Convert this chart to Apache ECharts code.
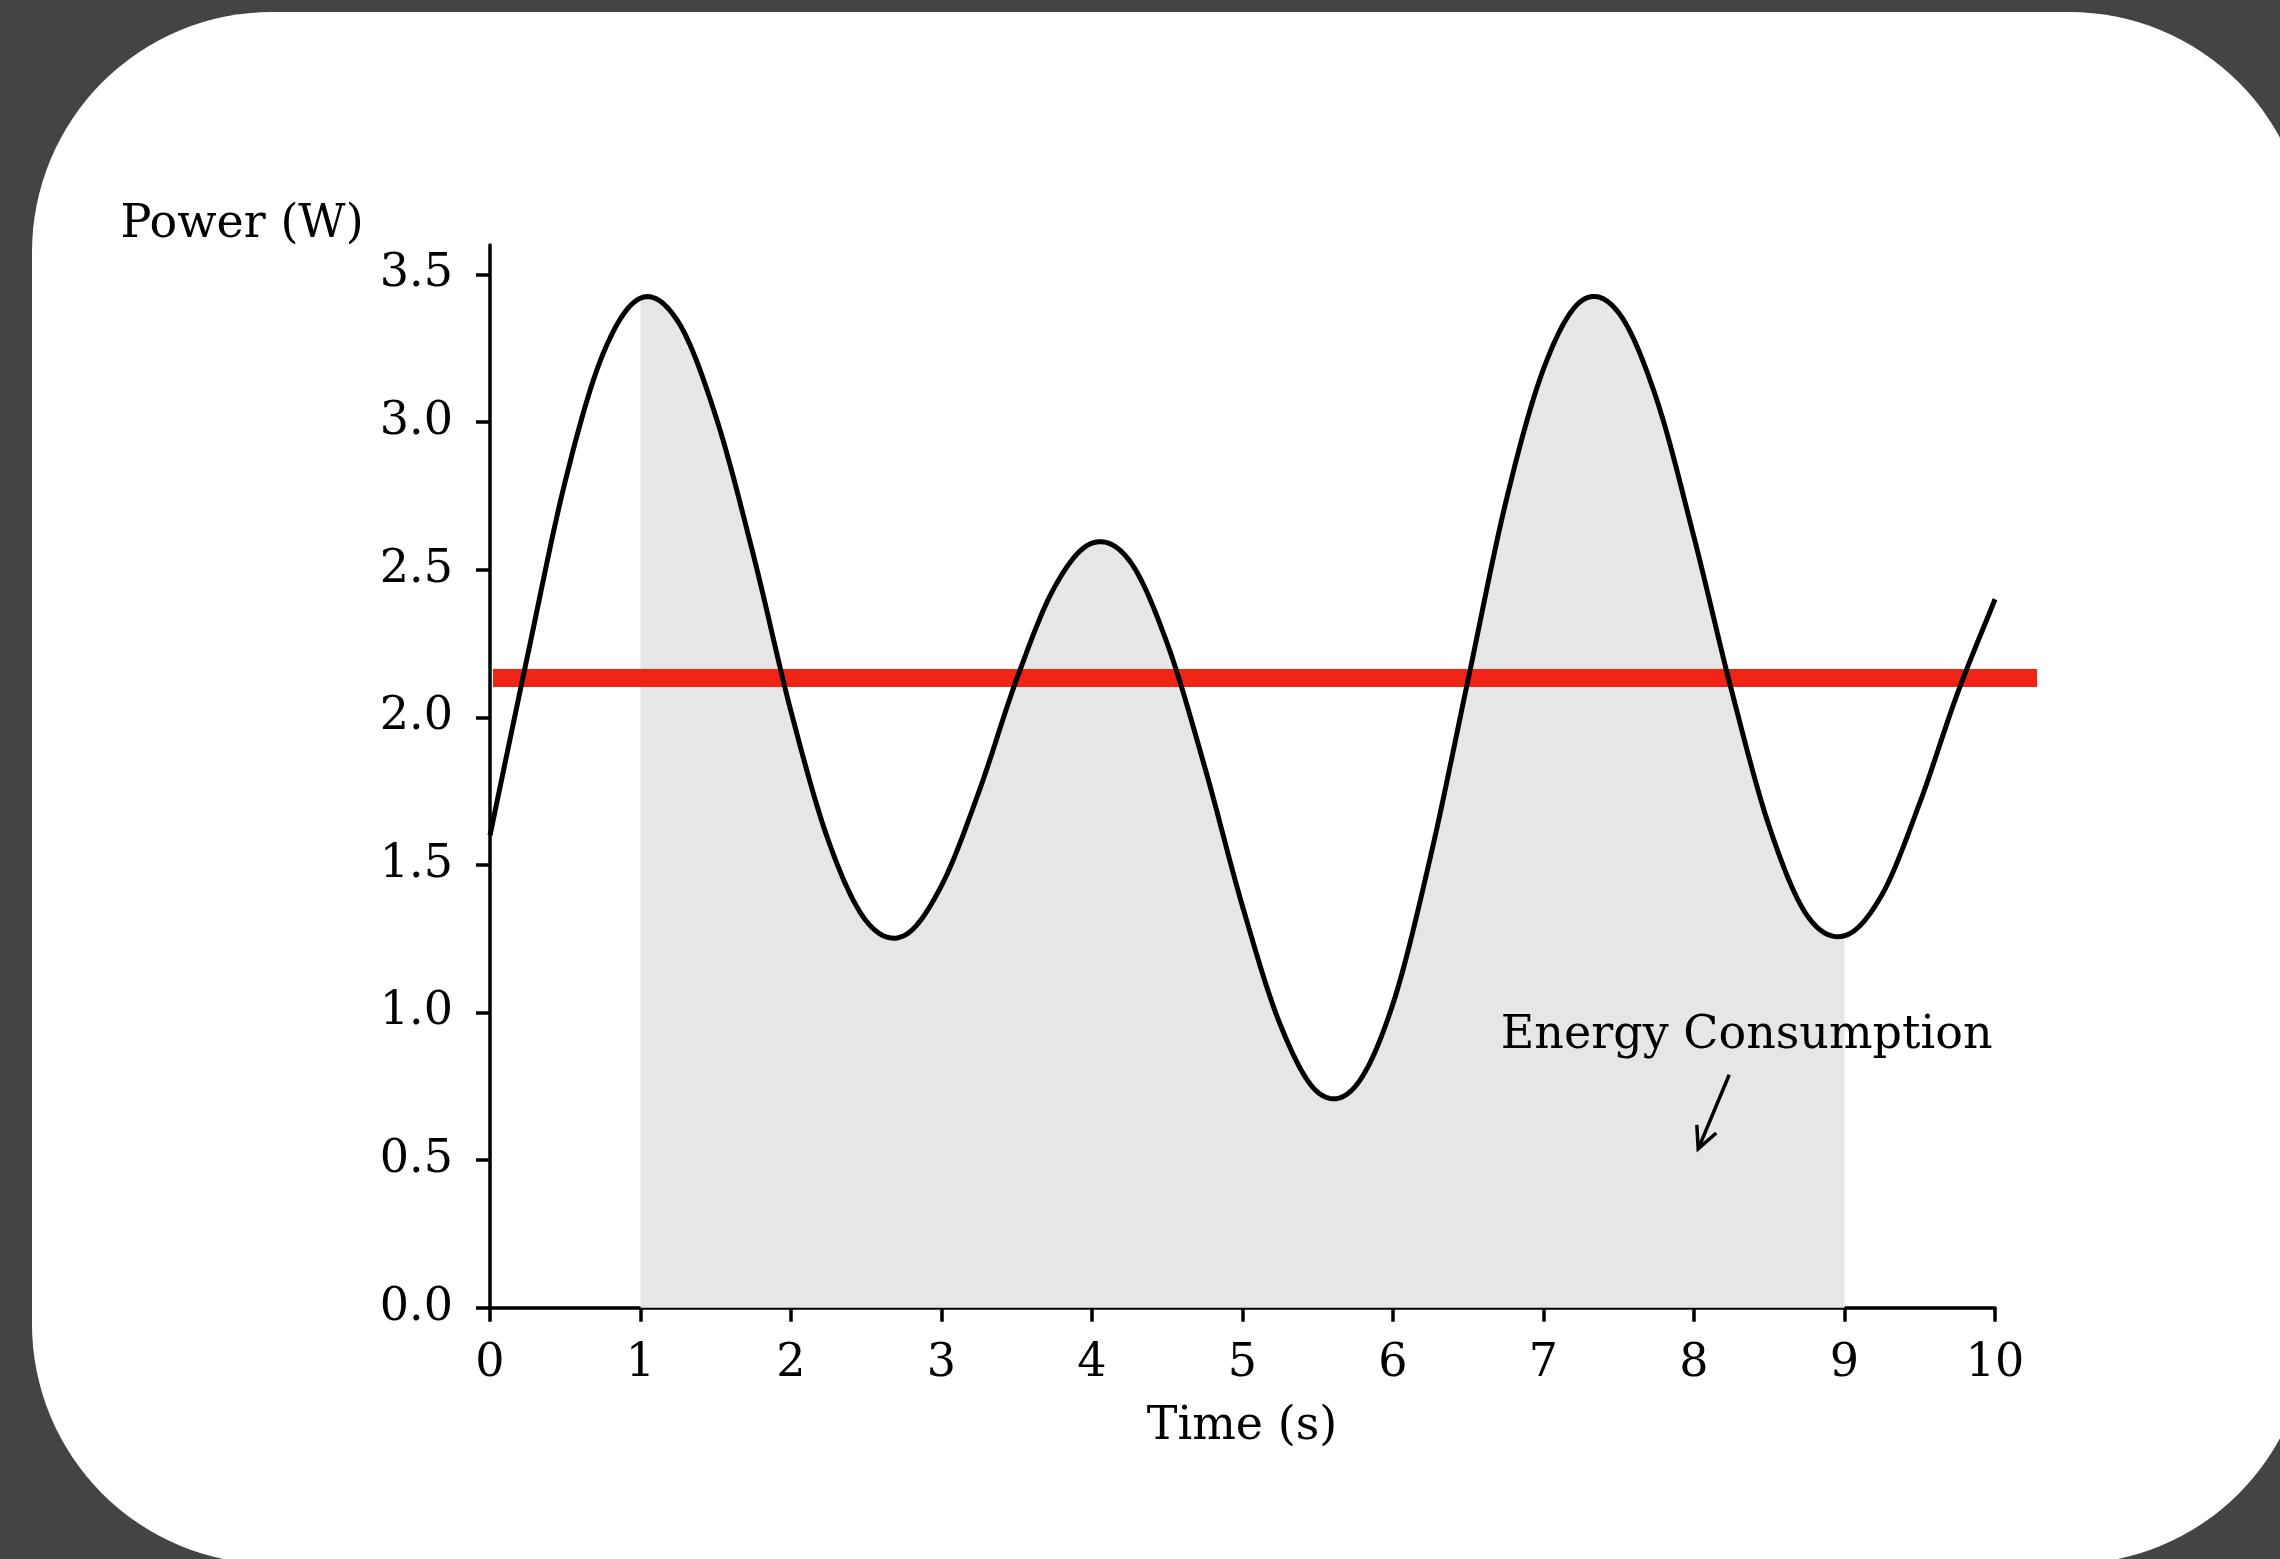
<!DOCTYPE html>
<html>
<head>
<meta charset="utf-8">
<script src="https://cdn.jsdelivr.net/npm/echarts@6/dist/echarts.min.js"></script>
<style>
  html, body { margin: 0; padding: 0; background: #444444; }
  #c { width: 2280px; height: 1559px; }
</style>
</head>
<body>
<div id="c"></div>
<script>
// ---- data ----
const timeS = [0.00,0.25,0.50,0.75,1.00,1.25,1.50,1.75,2.00,2.25,2.50,2.75,3.00,3.25,3.50,3.75,4.00,4.25,4.50,4.75,5.00,5.25,5.50,5.75,6.00,6.25,6.50,6.75,7.00,7.25,7.50,7.75,8.00,8.25,8.50,8.75,9.00,9.25,9.50,9.75,10.00];
const powerW = [1.60,2.21,2.80,3.23,3.42,3.34,3.02,2.55,2.02,1.58,1.31,1.26,1.43,1.75,2.13,2.44,2.59,2.53,2.25,1.83,1.36,0.96,0.73,0.75,1.03,1.53,2.13,2.73,3.18,3.41,3.37,3.08,2.61,2.09,1.63,1.33,1.26,1.40,1.71,2.08,2.40];
const fillRange = [1, 9];          // shaded interval (s)
const meanLineX = [0.02, 10.28];
const meanPower = 2.133;
const xTicks = [0,1,2,3,4,5,6,7,8,9,10];
const yTicks = [0,0.5,1.0,1.5,2.0,2.5,3.0,3.5];
const annotationText = 'Energy Consumption';
const annotationPos = [8.35, 0.92];
const arrowFrom = [8.234, 0.789];
const arrowTo = [8.028, 0.538];

// ---- build series data ----
const powerData = timeS.map((t, i) => [t, powerW[i]]);
const meanData = [[meanLineX[0], meanPower, meanLineX[1]]];

const FONT = '"DejaVu Serif", "Liberation Serif", serif';

// smooth curve (Catmull-Rom) through pixel positions given by the axes
function spline(pts, sub) {
  const n = pts.length, out = [];
  const get = i => i < 0 ? [2 * pts[0][0] - pts[1][0], 2 * pts[0][1] - pts[1][1]]
    : i >= n ? [2 * pts[n - 1][0] - pts[n - 2][0], 2 * pts[n - 1][1] - pts[n - 2][1]] : pts[i];
  for (let i = 0; i < n - 1; i++) {
    const p0 = get(i - 1), p1 = pts[i], p2 = pts[i + 1], p3 = get(i + 2);
    for (let k = 0; k < sub; k++) {
      const s = k / sub, s2 = s * s, s3 = s2 * s;
      out.push([0, 1].map(d => 0.5 * (2 * p1[d] + (-p0[d] + p2[d]) * s
        + (2 * p0[d] - 5 * p1[d] + 4 * p2[d] - p3[d]) * s2
        + (-p0[d] + 3 * p1[d] - 3 * p2[d] + p3[d]) * s3)));
    }
  }
  out.push(pts[n - 1].slice());
  return out;
}

const chart = echarts.init(document.getElementById('c'), null, {renderer: 'canvas', width: 2280, height: 1559});
chart.setOption({
  animation: false,
  backgroundColor: '#444444',
  grid: { left: 490, right: 285, top: 245, bottom: 251.3, containLabel: false },
  graphic: [
    { type: 'rect', z: -100, silent: true,
      shape: { x: 32, y: 12, width: 2277, height: 1552, r: 240 },
      style: { fill: '#ffffff' } },
    { type: 'text', z: 10, silent: true, x: 242, y: 225,
      style: { text: 'Power (W)', font: '46px ' + FONT, fill: '#000', align: 'center', verticalAlign: 'middle' } },
    { type: 'text', z: 10, silent: true, x: 1242, y: 1427,
      style: { text: 'Time (s)', font: '46px ' + FONT, fill: '#000', align: 'center', verticalAlign: 'middle' } }
  ],
  xAxis: {
    type: 'value', min: 0, max: 10, interval: 1,
    axisLine: { show: true, onZero: false, lineStyle: { color: '#000', width: 3.5 } },
    axisTick: { show: true, length: 14, lineStyle: { color: '#000', width: 3.5 }, customValues: xTicks },
    axisLabel: { show: true, customValues: xTicks, color: '#000', fontFamily: FONT, fontSize: 46, margin: 33 },
    splitLine: { show: false }
  },
  yAxis: {
    type: 'value', min: 0, max: 3.6,
    axisLine: { show: true, onZero: false, lineStyle: { color: '#000', width: 3.5 } },
    axisTick: { show: true, length: 14, lineStyle: { color: '#000', width: 3.5 }, customValues: yTicks },
    axisLabel: { show: true, customValues: yTicks, color: '#000', fontFamily: FONT, fontSize: 46, margin: 37,
      padding: [11, 0, 0, 0], formatter: v => Number(v).toFixed(1) },
    splitLine: { show: false }
  },
  series: [
    { name: 'fill', type: 'custom', coordinateSystem: 'cartesian2d', clip: false, silent: true, z: 1,
      data: powerData,
      renderItem: function (params, api) {
        if (params.dataIndex !== 0) return { type: 'group', children: [] };
        const pts = spline(powerData.map(p => api.coord(p)), 16);
        const x0 = api.coord([fillRange[0], 0]), x1 = api.coord([fillRange[1], 0]);
        const inside = pts.filter(p => p[0] >= x0[0] - 0.01 && p[0] <= x1[0] + 0.01);
        const poly = [x0].concat(inside).concat([x1]);
        return { type: 'polygon', shape: { points: poly }, style: { fill: '#e6e6e6', stroke: null } };
      }
    },
    { name: 'mean', type: 'custom', coordinateSystem: 'cartesian2d', clip: false, silent: true, z: 2,
      data: meanData, encode: { x: [0, 2], y: 1 },
      renderItem: function (params, api) {
        const a = api.coord([api.value(0), api.value(1)]);
        const b = api.coord([api.value(2), api.value(1)]);
        return { type: 'line', shape: { x1: a[0], y1: a[1], x2: b[0], y2: b[1] },
          style: { stroke: '#ef2414', lineWidth: 18, lineCap: 'butt' } };
      }
    },
    { name: 'power', type: 'custom', coordinateSystem: 'cartesian2d', clip: false, silent: true, z: 3,
      data: powerData,
      renderItem: function (params, api) {
        if (params.dataIndex !== 0) return { type: 'group', children: [] };
        const pts = spline(powerData.map(p => api.coord(p)), 16);
        return { type: 'polyline', shape: { points: pts },
          style: { stroke: '#000', lineWidth: 5, fill: null, lineJoin: 'round' } };
      }
    },
    { name: 'annotation', type: 'custom', coordinateSystem: 'cartesian2d', clip: false, silent: true, z: 5,
      data: [annotationPos],
      renderItem: function (params, api) {
        const p = api.coord(annotationPos);
        const a = api.coord(arrowFrom);
        const b = api.coord(arrowTo);
        const dx = a[0] - b[0], dy = a[1] - b[1];
        const len = Math.hypot(dx, dy);
        const ux = dx / len, uy = dy / len;
        const hl = 24, ang = 26 * Math.PI / 180;
        const rot = (x, y, t) => [x * Math.cos(t) - y * Math.sin(t), x * Math.sin(t) + y * Math.cos(t)];
        const w1 = rot(ux, uy, ang), w2 = rot(ux, uy, -ang);
        return {
          type: 'group',
          children: [
            { type: 'text', style: { text: annotationText, x: p[0], y: p[1], align: 'center', verticalAlign: 'middle',
                font: '46px ' + FONT, fill: '#000' } },
            { type: 'polyline', shape: { points: [a, b] }, style: { stroke: '#000', lineWidth: 3.5, fill: null } },
            { type: 'polyline', shape: { points: [[b[0] + w1[0] * hl, b[1] + w1[1] * hl], b, [b[0] + w2[0] * hl, b[1] + w2[1] * hl]] },
              style: { stroke: '#000', lineWidth: 3.5, fill: null } }
          ]
        };
      }
    }
  ]
});
</script>
</body>
</html>
